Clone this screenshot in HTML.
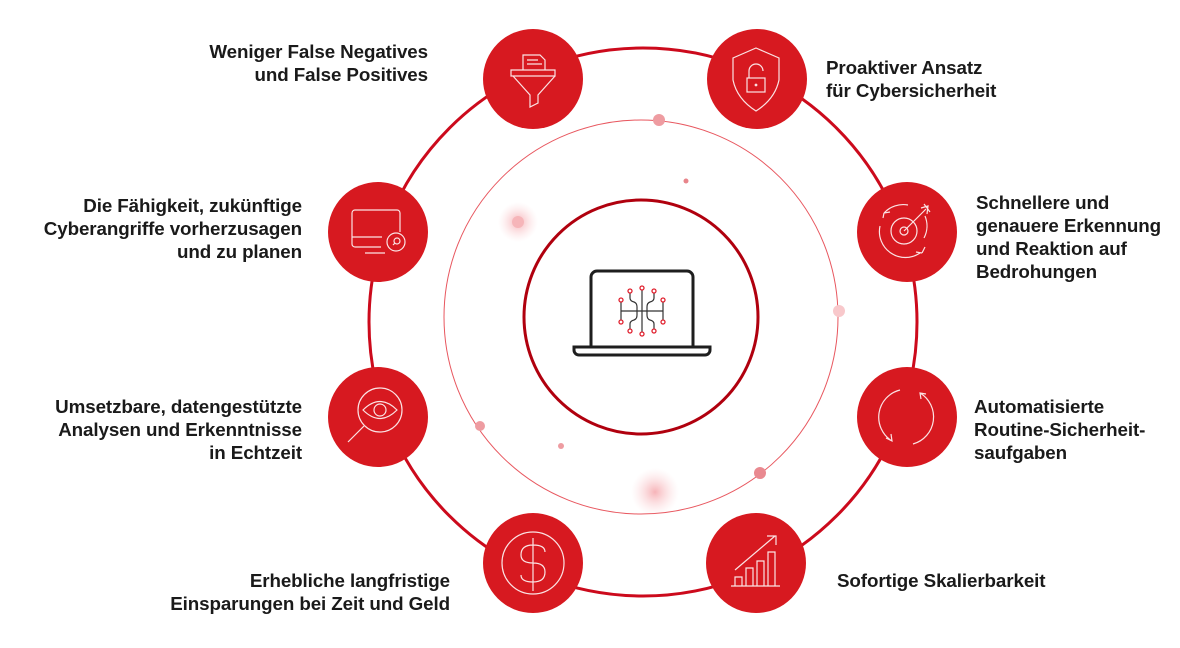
<!DOCTYPE html>
<html><head><meta charset="utf-8"><style>
body{margin:0;width:1180px;height:648px;background:#fff;overflow:hidden;position:relative;font-family:"Liberation Sans",sans-serif}
.t{position:absolute;font-weight:bold;font-size:18.8px;line-height:23px;color:#1a1a1a;white-space:nowrap;letter-spacing:-0.1px}
.r{text-align:right}
</style></head><body>
<svg width="1180" height="648" style="position:absolute;left:0;top:0">
<defs>
<radialGradient id="g"><stop offset="0" stop-color="#f4a0a6" stop-opacity=".8"/><stop offset="1" stop-color="#fbd5d8" stop-opacity="0"/></radialGradient>
</defs>
<circle cx="643" cy="322" r="274" fill="none" stroke="#cc0a1c" stroke-width="3"/>
<circle cx="641" cy="317" r="197" fill="none" stroke="#e8575f" stroke-width="1"/>
<circle cx="641" cy="317" r="117" fill="none" stroke="#b0000e" stroke-width="3"/>
<circle cx="518" cy="222" r="20" fill="url(#g)"/>
<circle cx="518" cy="222" r="6" fill="#f6b5b9"/>
<circle cx="655" cy="492" r="24" fill="url(#g)"/>
<circle cx="659" cy="120" r="6" fill="#ee9ca1"/>
<circle cx="686" cy="181" r="2.5" fill="#e8858b"/>
<circle cx="839" cy="311" r="6" fill="#f8c8cb"/>
<circle cx="480" cy="426" r="5" fill="#ee9ca1"/>
<circle cx="561" cy="446" r="3" fill="#ee9ca1"/>
<circle cx="760" cy="473" r="6" fill="#e98990"/>
<!-- laptop -->
<g fill="none" stroke="#1e1e1e" stroke-width="3">
<path d="M591 347 V277 a6 6 0 0 1 6-6 H687 a6 6 0 0 1 6 6 V347"/>
<path d="M574 347 H710 V350 a5 5 0 0 1 -5 5 H579 a5 5 0 0 1 -5 -5 Z"/>
</g>
<g stroke="#333" stroke-width="1.2" fill="none">
<path d="M642 288 V334 M621 311 H663 M621 301 V321 M663 301 V321"/>
<path d="M630 292 V298 q0 3 4 4 q3 1 3 5 V315 q0 4 -3 5 q-4 1 -4 4 V330"/>
<path d="M654 292 V298 q0 3 -4 4 q-3 1 -3 5 V315 q0 4 3 5 q4 1 4 4 V330"/>
</g>
<g fill="#fff" stroke="#e0202e" stroke-width="1.3">
<circle cx="642" cy="288" r="2"/><circle cx="642" cy="334" r="2"/>
<circle cx="621" cy="300" r="2"/><circle cx="621" cy="322" r="2"/>
<circle cx="663" cy="300" r="2"/><circle cx="663" cy="322" r="2"/>
<circle cx="630" cy="291" r="2"/><circle cx="630" cy="331" r="2"/>
<circle cx="654" cy="291" r="2"/><circle cx="654" cy="331" r="2"/>
</g>
<!-- nodes -->
<g fill="#d71920">
<circle cx="533" cy="79" r="50"/><circle cx="757" cy="79" r="50"/>
<circle cx="907" cy="232" r="50"/><circle cx="907" cy="417" r="50"/>
<circle cx="756" cy="563" r="50"/><circle cx="533" cy="563" r="50"/>
<circle cx="378" cy="417" r="50"/><circle cx="378" cy="232" r="50"/>
</g>
<g fill="none" stroke="#fbe3e4" stroke-width="1.2">
<!-- funnel -->
<path d="M523 70 V55 H540 l5 5 V70"/><path d="M527 60 H538 M527 64 H542"/>
<path d="M511 70 H555 V76 H511 Z"/><path d="M513 76 L530 95 V107 L538 103 V95 L555 76"/>
<!-- shield -->
<path d="M756 48 L779 58 V80 Q775 99 756 111 Q737 99 733 80 V58 Z"/>
<rect x="747" y="78" width="18" height="14"/><path d="M749 78 V71 a7 7 0 0 1 14 0"/><circle cx="756" cy="85" r="0.8"/>
<!-- target -->
<circle cx="904" cy="231" r="13"/><circle cx="904" cy="231" r="4"/>
<path d="M884 213 a26 26 0 0 1 24 -8 M880 226 a26 26 0 0 0 40 27 M925 216 a26 26 0 0 1 -1 22 M922 253 l3 -6 M922 253 l-6 -1 M884 213 l6 -1 M884 213 l-1 5 M904 231 L926 209 M921 208 L928 206 L927 214 M924 204 L930 212"/>
<!-- refresh -->
<path d="M900 390 A28 28 0 0 0 892 441 M886 438 l6 3 l-1 -7"/>
<path d="M913 444 A28 28 0 0 0 920 393 M926 394 l-6 -1 l1 6"/>
<!-- chart -->
<path d="M731 586 H780 M735 586 V577 H742 V586 M746 586 V568 H753 V586 M757 586 V561 H764 V586 M768 586 V552 H775 V586 M735 570 L775 536 M767 536 H776 V545"/>
<!-- dollar -->
<circle cx="533" cy="563" r="31"/><path d="M533 538 V591 M545 552 Q545 545 533 545 Q521 545 521 555 Q521 563 533 563 Q545 563 545 572 Q545 582 533 582 Q521 582 521 575"/>
<!-- eye -->
<circle cx="380" cy="410" r="22"/><path d="M363 410 Q380 393 397 410 Q380 427 363 410 Z"/><circle cx="380" cy="410" r="6"/><path d="M364 426 L348 442"/>
<!-- monitor -->
<path d="M381 247 H355 a3 3 0 0 1 -3 -3 V213 a3 3 0 0 1 3 -3 H397 a3 3 0 0 1 3 3 V232 M352 237 H382 M365 253 H385"/>
<circle cx="396" cy="242" r="9"/><circle cx="397" cy="241" r="3"/><path d="M395 243 L393 245"/>
</g>
</svg>
<div class="t r" style="right:752px;top:40px">Weniger False Negatives<br>und False Positives</div>
<div class="t" style="left:826px;top:56px">Proaktiver Ansatz<br>für Cybersicherheit</div>
<div class="t" style="left:976px;top:191px">Schnellere und<br>genauere Erkennung<br>und Reaktion auf<br>Bedrohungen</div>
<div class="t" style="left:974px;top:395px">Automatisierte<br>Routine-Sicherheit-<br>saufgaben</div>
<div class="t" style="left:837px;top:569px">Sofortige Skalierbarkeit</div>
<div class="t r" style="right:730px;top:569px">Erhebliche langfristige<br>Einsparungen bei Zeit und Geld</div>
<div class="t r" style="right:878px;top:194px">Die Fähigkeit, zukünftige<br>Cyberangriffe vorherzusagen<br>und zu planen</div>
<div class="t r" style="right:878px;top:395px">Umsetzbare, datengestützte<br>Analysen und Erkenntnisse<br>in Echtzeit</div>
</body></html>
